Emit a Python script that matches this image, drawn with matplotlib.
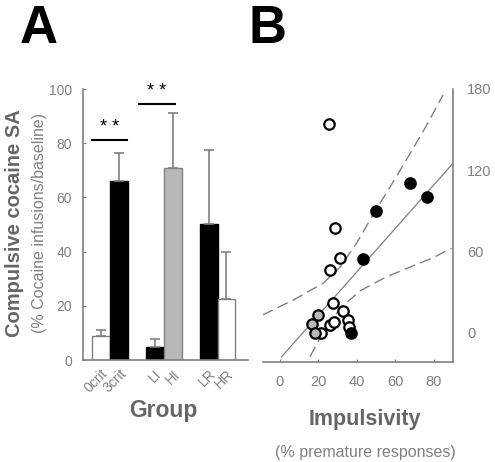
import numpy as np
import matplotlib.pyplot as plt

plt.rcParams['font.family'] = ['Liberation Sans', 'DejaVu Sans']

# Panel A: compulsive cocaine SA by group
groups = ['0crit', '3crit', 'LI', 'HI', 'LR', 'HR']
means = [8.9, 66.2, 4.9, 70.7, 50.2, 22.4]
sems = [2.1, 10.1, 2.7, 20.6, 27.3, 17.3]
bar_colors = ['white', 'black', 'black', '#b8b8b8', 'black', 'white']
edge_colors = ['#808080', 'black', 'black', '#808080', 'black', '#808080']

# Panel B: impulsivity vs compulsivity
open_x = [25.6, 28.7, 31.2, 26.3, 27.4, 32.9, 35.5, 36.0, 26.0, 28.0, 21.3]
open_y = [154.2, 77.2, 55.0, 46.5, 21.9, 16.5, 9.6, 4.7, 5.9, 7.9, 0.0]
gray_x = [19.9, 16.8, 18.2]
gray_y = [13.3, 6.6, 0.2]
black_x = [67.5, 76.7, 49.9, 43.3, 36.7]
black_y = [110.9, 100.5, 90.0, 54.3, 0.2]

fit_x = [0.9, 90.0]
fit_y = [-17.5, 125.2]
upper_x = [-9, 6.9, 22.5, 31.2, 39.8, 48.5, 58.9, 67.5, 76.2, 84.8]
upper_y = [13.3, 24.3, 36.7, 48.5, 66.0, 87.5, 111.5, 132.0, 153.0, 175.6]
lower_x = [15.6, 20.8, 31.2, 41.6, 55.4, 67.5, 79.6, 89.2]
lower_y = [-17.5, -3.9, 18.0, 31.0, 41.5, 48.5, 55.5, 62.5]

axis_gray = '#808080'
text_gray = '#666666'

fig = plt.figure(figsize=(4.95, 4.62), dpi=100)

# ---- Panel A ----
axA = fig.add_axes([83/495, 1-360/462, 165/495, 271/462])
pos = np.array([1, 2, 4, 5, 7, 8])
axA.bar(pos, means, width=1.0, color=bar_colors, edgecolor=edge_colors, linewidth=1.0,
        yerr=[np.zeros(len(sems)), sems], ecolor=axis_gray,
        error_kw=dict(capsize=3.5, elinewidth=1.2, capthick=1.2), zorder=2)
axA.set_xlim(0, 9.2)
axA.set_ylim(0, 100)
axA.set_yticks([0, 20, 40, 60, 80, 100])
axA.set_xticks(pos)
axA.set_xticklabels(groups, rotation=45, ha='right', va='top', rotation_mode='anchor',
                    fontsize=10, color=axis_gray)
for s in ['top', 'right']:
    axA.spines[s].set_visible(False)
for s in ['left', 'bottom']:
    axA.spines[s].set_color(axis_gray)
    axA.spines[s].set_linewidth(1.2)
axA.tick_params(axis='y', direction='in', length=2, color=axis_gray, labelcolor=axis_gray,
                labelsize=10, pad=8)
axA.tick_params(axis='x', length=0, pad=5)

# significance bars
axA.plot([0.48, 2.46], [81, 81], color='black', lw=1.5, clip_on=False)
axA.text(1.47, 82.5, '* *', ha='center', va='bottom', fontsize=13)
axA.plot([3.13, 5.11], [94.5, 94.5], color='black', lw=1.5, clip_on=False)
axA.text(4.12, 96, '* *', ha='center', va='bottom', fontsize=13)

fig.text(15/495, 1-223/462, 'Compulsive cocaine SA', rotation=90, ha='center', va='center',
         fontsize=14.5, fontweight='bold', color=text_gray)
fig.text(40/495, 1-223/462, '(% Cocaine infusions/baseline)', rotation=90, ha='center',
         va='center', fontsize=11.5, color=axis_gray)
fig.text(163/495, 1-410/462, 'Group', ha='center', va='center', fontsize=16.5,
         fontweight='bold', color=text_gray)

# ---- Panel B ----
axB = fig.add_axes([263/495, 1-362/462, 190/495, 273/462])
ms = 7.5
axB.plot(fit_x, fit_y, color=axis_gray, lw=0.9, zorder=1)
axB.plot(upper_x, upper_y, color=axis_gray, lw=1.0, dashes=(8, 4), zorder=1)
axB.plot(lower_x, lower_y, color=axis_gray, lw=1.0, dashes=(8, 4), zorder=1)
axB.plot(open_x, open_y, 'o', ms=ms, mfc='white', mec='black', mew=1.6, zorder=3)
axB.plot(gray_x, gray_y, 'o', ms=ms, mfc='#b8b8b8', mec='black', mew=1.6, zorder=3)
axB.plot(black_x, black_y, 'o', ms=ms, mfc='black', mec='black', mew=1.6, zorder=3)
axB.set_xlim(-8.8, 90)
axB.set_ylim(-21.4, 180)
axB.set_xticks([0, 20, 40, 60, 80])
axB.set_yticks([0, 60, 120, 180])
axB.yaxis.tick_right()
for s in ['top', 'left']:
    axB.spines[s].set_visible(False)
for s in ['right', 'bottom']:
    axB.spines[s].set_color(axis_gray)
    axB.spines[s].set_linewidth(1.2)
axB.tick_params(axis='x', direction='in', length=2, color=axis_gray, labelcolor=axis_gray,
                labelsize=10.5, pad=9)
axB.tick_params(axis='y', direction='in', length=0, labelcolor=axis_gray,
                labelsize=10.5, pad=10)

fig.text(365/495, 1-420/462, 'Impulsivity', ha='center', va='center', fontsize=15.5,
         fontweight='bold', color=text_gray)
fig.text(365/495, 1-452/462, '(% premature responses)', ha='center', va='center',
         fontsize=11.5, color=axis_gray)

# panel letters
fig.text(20/495, 1-43/462, 'A', ha='left', va='baseline', fontsize=38, fontweight='bold')
fig.text(249/495, 1-43/462, 'B', ha='left', va='baseline', fontsize=38, fontweight='bold')

fig.savefig('out.png', dpi=100)
